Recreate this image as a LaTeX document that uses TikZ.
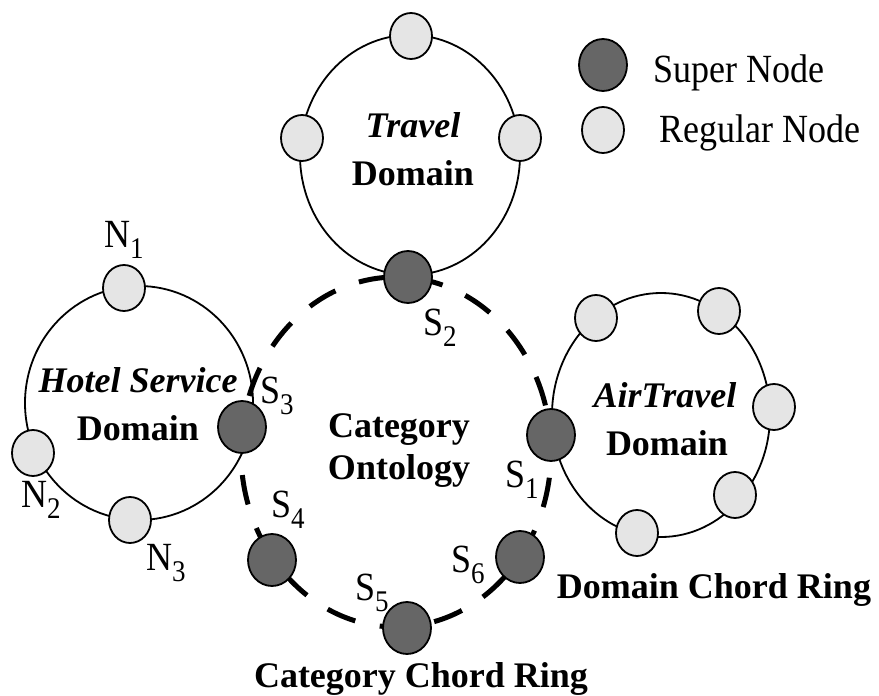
\documentclass[tikz,border=0pt]{standalone}
\usepackage{fontspec}
\setmainfont{Liberation Serif}
\newfontfamily\tallserif[FakeStretch=0.9]{Liberation Serif}
\usetikzlibrary{shapes.geometric}
\newcommand{\lowsub}[1]{\raisebox{-11pt}{\fontsize{30}{30}\selectfont #1}}
\tikzset{
  ring/.style={draw=black, line width=1.8pt},
  chordring/.style={draw=black, line width=5pt, dash pattern=on 30pt off 25pt, dash phase=8pt},
  regular/.style={ellipse, draw=black, line width=1.8pt, fill=black!10, minimum width=42pt, minimum height=46pt, inner sep=0pt},
  super/.style={ellipse, draw=black, line width=1.8pt, fill=black!60, minimum width=48pt, minimum height=52pt, inner sep=0pt},
  lbl/.style={inner sep=0pt, anchor=base west, font=\fontsize{40}{40}\tallserif},
  title/.style={inner sep=0pt, anchor=base, font=\fontsize{36}{36}\selectfont\bfseries},
  ititle/.style={inner sep=0pt, anchor=base, font=\fontsize{36}{36}\selectfont\bfseries\itshape},
  legendtext/.style={inner sep=0pt, anchor=base west, font=\fontsize{40}{40}\tallserif}
}
\begin{document}
\begin{tikzpicture}[x=1pt,y=-1pt]
\useasboundingbox (0,0) rectangle (879,696);

% domain rings
\draw[ring] (410,155) ellipse [x radius=110pt, y radius=120pt];
\draw[ring] (139,403) ellipse [x radius=114pt, y radius=117pt];
\draw[ring] (661,415) ellipse [x radius=109pt, y radius=122pt];

% category chord ring
\draw[chordring] (396,452) ellipse [x radius=155pt, y radius=175pt];

% super nodes on the category ring
\node[super] (s1) at (551,435) {};
\node[super] (s2) at (408,277) {};
\node[super] (s3) at (242,427) {};
\node[super] (s4) at (272,560) {};
\node[super] (s5) at (407,628) {};
\node[super] (s6) at (520,557) {};

% travel domain nodes
\node[regular] (t1) at (411,36) {};
\node[regular] (t2) at (302,138) {};
\node[regular] (t3) at (520,138) {};

% hotel service domain nodes
\node[regular] (n1) at (124,288) {};
\node[regular] (n2) at (33,453) {};
\node[regular] (n3) at (130,520) {};

% air travel domain nodes
\node[regular] (a1) at (596,318) {};
\node[regular] (a2) at (719,311) {};
\node[regular] (a3) at (774,407) {};
\node[regular] (a4) at (735,495) {};
\node[regular] (a5) at (637,533) {};

% node labels
\node[lbl] (ls1) at (505,487) {S\lowsub{1}};
\node[lbl] (ls2) at (423,335) {S\lowsub{2}};
\node[lbl] (ls3) at (260,403) {S\lowsub{3}};
\node[lbl] (ls4) at (271,517) {S\lowsub{4}};
\node[lbl] (ls5) at (355,600) {S\lowsub{5}};
\node[lbl] (ls6) at (451,572) {S\lowsub{6}};
\node[lbl] (ln1) at (104,247) {N\lowsub{1}};
\node[lbl] (ln2) at (21,507) {N\lowsub{2}};
\node[lbl] (ln3) at (146,570) {N\lowsub{3}};

% domain titles
\node[ititle] (tt1) at (413,137) {Travel};
\node[title]  (tt2) at (413,185) {Domain};
\node[ititle] (ht1) at (138,392) {Hotel Service};
\node[title]  (ht2) at (138,440) {Domain};
\node[ititle] (at1) at (665,407) {AirTravel};
\node[title]  (at2) at (667,455) {Domain};
\node[title]  (co1) at (399,437) {Category};
\node[title]  (co2) at (399,479) {Ontology};
\node[title]  (ccr) at (421,687) {Category Chord Ring};
\node[title]  (dcr) at (714,598) {Domain Chord Ring};

% legend
\node[super]   (lgs) at (603,65) {};
\node[regular] (lgr) at (603,130) {};
\node[legendtext] (lgst) at (653,82) {Super Node};
\node[legendtext] (lgrt) at (659,142) {Regular Node};
\end{tikzpicture}
\end{document}
